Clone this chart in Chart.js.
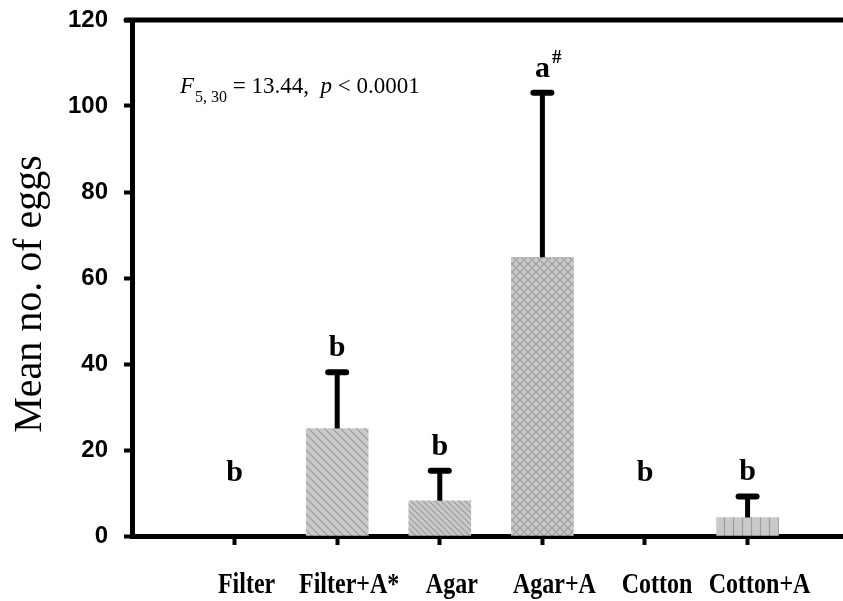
<!DOCTYPE html>
<html>
<head>
<meta charset="utf-8">
<script src="https://cdn.jsdelivr.net/npm/chart.js@4.4.1/dist/chart.umd.min.js"></script>
<style>
    body { margin: 0; background: #fff; }
</style>
</head>
<body>
<canvas id="eggChart" width="843" height="601"></canvas>
<script>
var categories = ["Filter", "Filter+A*", "Agar", "Agar+A", "Cotton", "Cotton+A"];
var meanEggs = [0, 25, 8.2, 64.8, 0, 4.3];
var seEggs = [0, 13.1, 7.0, 38.3, 0, 4.9];
var letters = ["b", "b", "b", "a", "b", "b"];
var letterMarks = ["", "", "", "#", "", ""];
var yMin = 0, yMax = 120, yStep = 20;

window.onload = function () {
    initChart();
};

function makePattern(ctx, kind) {
    var size = kind == 'vertical' ? 9 : (kind == 'fine' ? 6 : 8);
    var c = document.createElement('canvas');
    c.width = size;
    c.height = size;
    var g = c.getContext('2d');
    g.fillStyle = '#c9c9c9';
    g.fillRect(0, 0, size, size);
    g.strokeStyle = '#9d9d9d';
    g.lineWidth = 1.2;
    g.beginPath();
    if (kind == 'vertical') {
        g.moveTo(size / 2, 0);
        g.lineTo(size / 2, size);
    } else {
        // back-slash hatch
        g.moveTo(-1, -1); g.lineTo(size + 1, size + 1);
        g.moveTo(-1, size - 1); g.lineTo(1, size + 1);
        g.moveTo(size - 1, -1); g.lineTo(size + 1, 1);
        if (kind == 'cross') {
            g.moveTo(size + 1, -1); g.lineTo(-1, size + 1);
            g.moveTo(1, -1); g.lineTo(-1, 1);
            g.moveTo(size + 1, size - 1); g.lineTo(size - 1, size + 1);
        }
    }
    g.stroke();
    return ctx.createPattern(c, 'repeat');
}

var extrasPlugin = {
    id: 'extras',
    afterDatasetsDraw: function (chart) {
        var ctx = chart.ctx;
        var y = chart.scales.y;
        var bars = chart.getDatasetMeta(0).data;
        ctx.save();
        ctx.strokeStyle = '#000';
        for (var i = 0; i < bars.length; i++) {
            if (!seEggs[i]) continue;
            var x = bars[i].x;
            var y0 = y.getPixelForValue(meanEggs[i]);
            var y1 = y.getPixelForValue(meanEggs[i] + seEggs[i]);
            ctx.lineWidth = 5;
            ctx.lineCap = 'butt';
            ctx.beginPath();
            ctx.moveTo(x, y0);
            ctx.lineTo(x, y1);
            ctx.stroke();
            ctx.lineWidth = 6;
            ctx.lineCap = 'round';
            ctx.beginPath();
            ctx.moveTo(x - 9, y1);
            ctx.lineTo(x + 9, y1);
            ctx.stroke();
        }
        ctx.restore();
    },
    afterDraw: function (chart) {
        var ctx = chart.ctx;
        var area = chart.chartArea;
        var xs = chart.scales.x;
        var ys = chart.scales.y;
        var bars = chart.getDatasetMeta(0).data;
        ctx.save();

        // top frame line
        ctx.strokeStyle = '#000';
        ctx.lineWidth = 5;
        ctx.lineCap = 'round';
        ctx.beginPath();
        ctx.moveTo(area.left - 6, area.top);
        ctx.lineTo(area.right + 5, area.top);
        ctx.stroke();

        ctx.fillStyle = '#000';

        // significance letters
        for (var i = 0; i < bars.length; i++) {
            var top = Math.max(meanEggs[i] + seEggs[i], 9);
            var by = ys.getPixelForValue(top) - 16;
            ctx.font = 'bold 30px "Liberation Serif"';
            ctx.textAlign = 'center';
            ctx.textBaseline = 'alphabetic';
            ctx.fillText(letters[i], bars[i].x, by);
            if (letterMarks[i]) {
                var w = ctx.measureText(letters[i]).width;
                ctx.font = 'bold 19px "Liberation Serif"';
                ctx.textAlign = 'left';
                ctx.fillText(letterMarks[i], bars[i].x + w / 2 + 2, by - 14);
            }
        }

        // category labels
        ctx.font = 'bold 24px "Liberation Serif"';
        ctx.textAlign = 'center';
        ctx.textBaseline = 'alphabetic';
        for (var j = 0; j < categories.length; j++) {
            ctx.save();
            ctx.translate(xs.getPixelForValue(j) + 12, 593);
            ctx.scale(1, 1.25);
            ctx.fillText(categories[j], 0, 0);
            ctx.restore();
        }

        // y axis title
        ctx.save();
        ctx.translate(30, 294);
        ctx.rotate(-Math.PI / 2);
        ctx.font = '40px "Liberation Serif"';
        ctx.textAlign = 'center';
        ctx.textBaseline = 'middle';
        ctx.fillText('Mean no. of eggs', 0, 0);
        ctx.restore();

        // statistics text
        var tx = area.left + 48;
        var ty = 93;
        ctx.textAlign = 'left';
        ctx.textBaseline = 'alphabetic';
        var parts = [
            ['italic 23px "Liberation Serif"', 'F', 0],
            ['16px "Liberation Serif"', '5, 30', 9],
            ['23px "Liberation Serif"', ' = 13.44,  ', 0],
            ['italic 23px "Liberation Serif"', 'p', 0],
            ['23px "Liberation Serif"', ' < 0.0001', 0]
        ];
        for (var k = 0; k < parts.length; k++) {
            ctx.font = parts[k][0];
            ctx.fillText(parts[k][1], tx, ty + parts[k][2]);
            tx += ctx.measureText(parts[k][1]).width + (k == 0 ? 1 : 0);
        }
        ctx.restore();
    }
};

function initChart() {
    var canvas = document.getElementById("eggChart");
    var ctx = canvas.getContext('2d');

    var fills = [
        'rgba(0,0,0,0)',
        makePattern(ctx, 'diag'),
        makePattern(ctx, 'fine'),
        makePattern(ctx, 'cross'),
        'rgba(0,0,0,0)',
        makePattern(ctx, 'vertical')
    ];

    var points = categories.map(function (c, i) {
        return { x: i, y: meanEggs[i] };
    });

    var data = {
        datasets: [{
            data: points,
            backgroundColor: fills,
            borderWidth: 0,
            barThickness: 62
        }]
    };

    var options = {
        responsive: false,
        animation: false,
        layout: { padding: { top: 20, right: 0, bottom: 0, left: 0 } },
        plugins: {
            legend: { display: false },
            tooltip: { enabled: false }
        },
        scales: {
            x: {
                type: 'linear',
                min: -1,
                max: 5.93,
                offset: false,
                afterBuildTicks: function (scale) {
                    scale.ticks = categories.map(function (c, i) { return { value: i }; });
                },
                afterFit: function (scale) {
                    scale.height = 65;
                    scale.paddingLeft = 0;
                    scale.paddingRight = 0;
                },
                ticks: { display: false },
                grid: {
                    offset: false,
                    drawOnChartArea: false,
                    tickLength: 9,
                    tickWidth: 4,
                    tickColor: '#000'
                },
                border: { width: 5, color: '#000' }
            },
            y: {
                min: yMin,
                max: yMax,
                ticks: {
                    stepSize: yStep,
                    color: '#000',
                    padding: 16,
                    font: { family: 'Liberation Sans', weight: 'bold', size: 24 }
                },
                afterFit: function (scale) {
                    scale.width = 132;
                    scale.paddingTop = 0;
                    scale.paddingBottom = 0;
                },
                grid: {
                    drawOnChartArea: false,
                    tickLength: 8,
                    tickWidth: 4,
                    tickColor: '#000'
                },
                border: { width: 5, color: '#000' }
            }
        }
    };

    new Chart(ctx, {
        type: 'bar',
        data: data,
        options: options,
        plugins: [extrasPlugin]
    });
}
</script>
</body>
</html>
